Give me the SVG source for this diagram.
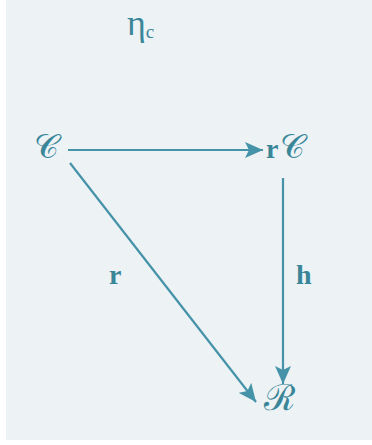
<svg xmlns="http://www.w3.org/2000/svg" width="372" height="445" viewBox="0 0 372 445">
<style>
.bg{fill:#edf2f5}
.t{fill:#3a8699;font-family:"Liberation Serif","DejaVu Serif",serif}
.s{font-family:"DejaVu Serif",serif}
.e{stroke:#4593a8;stroke-width:2.2;fill:none}
</style>
<defs>
<marker id="ah" viewBox="0 0 18 16" refX="18" refY="8" markerWidth="18" markerHeight="16" markerUnits="userSpaceOnUse" orient="auto">
<path d="M0,0 L18,8 L0,16 L4,8 Z" fill="#4593a8"/>
</marker>
</defs>
<rect width="372" height="445" fill="#ffffff"/>
<rect class="bg" x="6" y="0" width="366" height="440"/>
<g id="eta">
<text class="t" x="127" y="35" font-size="36">η<tspan font-size="19" dy="3">c</tspan></text>
</g>
<g id="C">
<text class="t s" x="34" y="158" font-size="34">𝒞</text>
</g>
<g id="rC">
<text class="t" x="266" y="158" font-size="28" font-weight="bold">r</text>
<text class="t s" x="280" y="158" font-size="34">𝒞</text>
</g>
<g id="R">
<text class="t s" x="264" y="410" font-size="36">ℛ</text>
</g>
<g id="edges">
<line class="e" x1="68" y1="150" x2="263" y2="150" marker-end="url(#ah)"/>
<line class="e" x1="283" y1="178" x2="283" y2="384" marker-end="url(#ah)"/>
<line class="e" x1="70" y1="163" x2="256" y2="402" marker-end="url(#ah)"/>
</g>
<g id="labels">
<text class="t" x="109" y="284" font-size="28" font-weight="bold">r</text>
<text class="t" x="296" y="284" font-size="28" font-weight="bold">h</text>
</g>
</svg>
